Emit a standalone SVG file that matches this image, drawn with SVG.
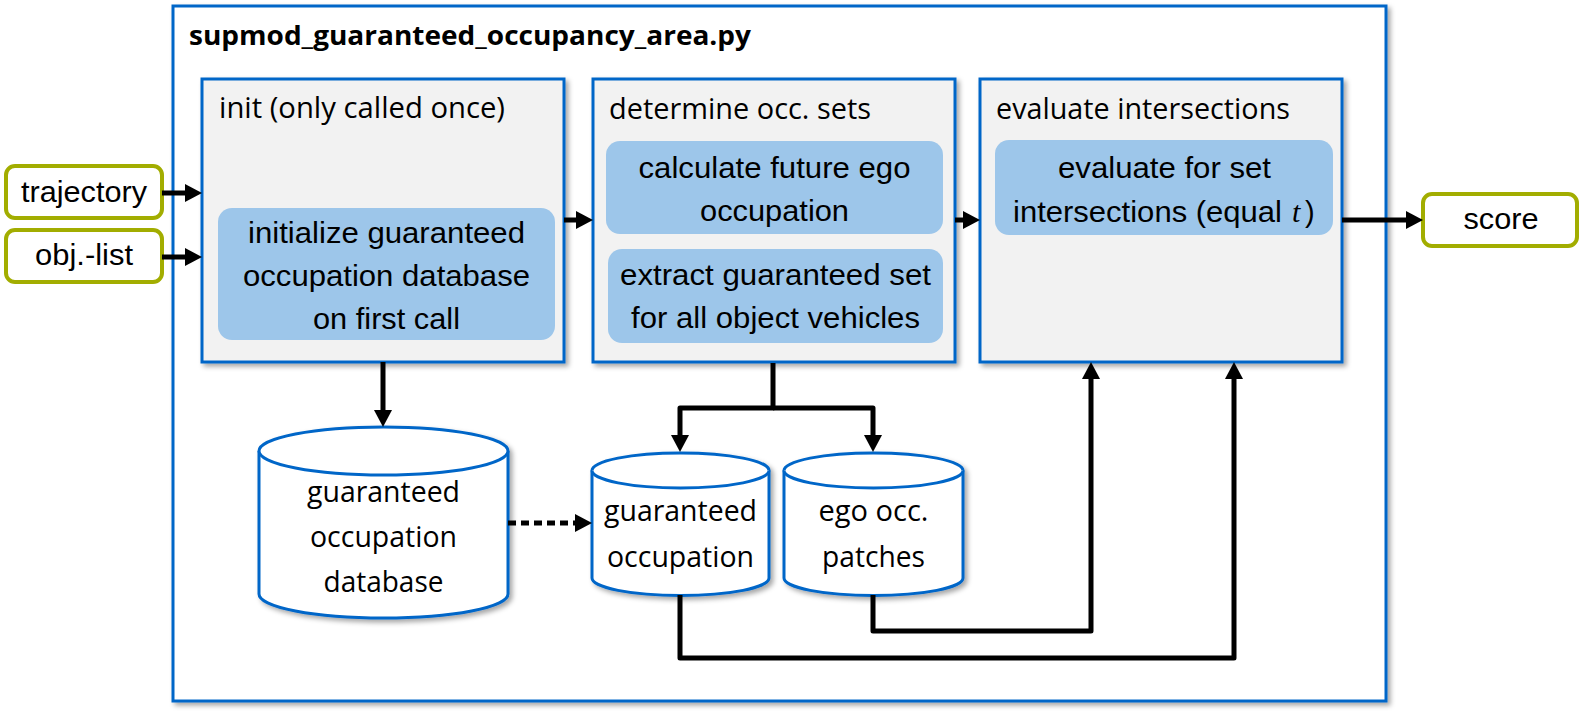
<svg xmlns="http://www.w3.org/2000/svg" width="1580" height="717" viewBox="0 0 1580 717">
<defs>
<filter id="sh" x="-5%" y="-5%" width="115%" height="115%">
<feDropShadow dx="3" dy="3" stdDeviation="2.5" flood-color="#000" flood-opacity="0.35"/>
</filter>
<marker id="ah" markerUnits="userSpaceOnUse" markerWidth="18" markerHeight="18" refX="0" refY="9" orient="auto" overflow="visible">
<path d="M0,0 L17,9 L0,18 Z" fill="#000"/>
</marker>
</defs>
<style>
.frame{fill:#fff;stroke:#0066C8;stroke-width:3}
.stage{fill:#F2F2F2;stroke:#0066C8;stroke-width:3}
.task{fill:#9DC6EA;stroke:none}
.io{fill:#fff;stroke:#A2AD00;stroke-width:4}
.cyl{fill:#fff;stroke:#0066C8;stroke-width:3}
.cal{font-family:"Open Sans","Noto Sans",sans-serif;font-size:29px;fill:#000}
.ari{font-family:"Liberation Sans",Arial,sans-serif;font-size:29px;fill:#000}
.ttl{font-family:"Open Sans","Noto Sans",sans-serif;font-size:27px;font-weight:bold;fill:#000}
.c{text-anchor:middle}
.con{fill:none;stroke:#000;stroke-width:5;stroke-linejoin:round}
</style>
<rect width="1580" height="717" fill="#fff"/>

<g id="n-module">
<rect class="frame" x="173" y="6" width="1213" height="695" filter="url(#sh)"/>
<text class="ttl" x="189" y="45" textLength="562" lengthAdjust="spacingAndGlyphs">supmod_guaranteed_occupancy_area.py</text>
</g>

<g id="n-trajectory">
<rect class="io" x="6" y="166" width="156" height="52" rx="9"/>
<text class="ari c" x="84" y="202" textLength="126" lengthAdjust="spacingAndGlyphs">trajectory</text>
</g>
<g id="n-objlist">
<rect class="io" x="6" y="230" width="156" height="52" rx="9"/>
<text class="ari c" x="84" y="265" textLength="98" lengthAdjust="spacingAndGlyphs">obj.-list</text>
</g>
<g id="n-score">
<rect class="io" x="1423" y="194" width="154" height="52" rx="9"/>
<text class="ari c" x="1501" y="229" textLength="75" lengthAdjust="spacingAndGlyphs">score</text>
</g>

<g id="n-init">
<rect class="stage" x="202" y="79" width="362" height="283" filter="url(#sh)"/>
<text class="cal" x="219" y="118" textLength="286" lengthAdjust="spacingAndGlyphs">init (only called once)</text>
<rect class="task" x="218" y="208" width="337" height="132" rx="14"/>
<text class="ari c" x="386.5" y="243" textLength="277" lengthAdjust="spacingAndGlyphs">initialize guaranteed</text>
<text class="ari c" x="386.5" y="286" textLength="287" lengthAdjust="spacingAndGlyphs">occupation database</text>
<text class="ari c" x="386.5" y="329" textLength="147" lengthAdjust="spacingAndGlyphs">on first call</text>
</g>

<g id="n-determine">
<rect class="stage" x="593" y="79" width="362" height="283" filter="url(#sh)"/>
<text class="cal" x="609" y="119" textLength="262" lengthAdjust="spacingAndGlyphs">determine occ. sets</text>
<rect class="task" x="606" y="141" width="337" height="93" rx="14"/>
<text class="ari c" x="774.5" y="178" textLength="272" lengthAdjust="spacingAndGlyphs">calculate future ego</text>
<text class="ari c" x="774.5" y="221" textLength="149" lengthAdjust="spacingAndGlyphs">occupation</text>
<rect class="task" x="608" y="249" width="335" height="94" rx="14"/>
<text class="ari c" x="775.5" y="285" textLength="311" lengthAdjust="spacingAndGlyphs">extract guaranteed set</text>
<text class="ari c" x="775.5" y="328" textLength="289" lengthAdjust="spacingAndGlyphs">for all object vehicles</text>
</g>

<g id="n-evaluate">
<rect class="stage" x="980" y="79" width="362" height="283" filter="url(#sh)"/>
<text class="cal" x="996" y="119" textLength="294" lengthAdjust="spacingAndGlyphs">evaluate intersections</text>
<rect class="task" x="995" y="140" width="338" height="95" rx="14"/>
<text class="ari c" x="1164.5" y="178" textLength="213" lengthAdjust="spacingAndGlyphs">evaluate for set</text>
<text class="ari" x="1013" y="222" textLength="269" lengthAdjust="spacingAndGlyphs">intersections (equal</text>
<text x="1292" y="222" font-family="'Liberation Serif',serif" font-style="italic" font-size="30" fill="#000">t</text>
<text class="ari" x="1305" y="222">)</text>
</g>

<g id="n-database">
<path class="cyl" d="M259,451 A124.5,24 0 0 1 508,451 V594 A124.5,24 0 0 1 259,594 Z" filter="url(#sh)"/>
<path class="cyl" fill="none" d="M259,451 A124.5,24 0 0 0 508,451"/>
<text class="cal c" x="383.5" y="502" textLength="153" lengthAdjust="spacingAndGlyphs">guaranteed</text>
<text class="cal c" x="383.5" y="547" textLength="147" lengthAdjust="spacingAndGlyphs">occupation</text>
<text class="cal c" x="383.5" y="592" textLength="120" lengthAdjust="spacingAndGlyphs">database</text>
</g>

<g id="n-guaranteed">
<path class="cyl" d="M592,470.5 A88.5,17.5 0 0 1 769,470.5 V578 A88.5,17.5 0 0 1 592,578 Z" filter="url(#sh)"/>
<path class="cyl" fill="none" d="M592,470.5 A88.5,17.5 0 0 0 769,470.5"/>
<text class="cal c" x="680.5" y="521" textLength="153" lengthAdjust="spacingAndGlyphs">guaranteed</text>
<text class="cal c" x="680.5" y="567" textLength="147" lengthAdjust="spacingAndGlyphs">occupation</text>
</g>

<g id="n-ego">
<path class="cyl" d="M784,470.5 A89.5,17.5 0 0 1 963,470.5 V578 A89.5,17.5 0 0 1 784,578 Z" filter="url(#sh)"/>
<path class="cyl" fill="none" d="M784,470.5 A89.5,17.5 0 0 0 963,470.5"/>
<text class="cal c" x="873.5" y="521" textLength="110" lengthAdjust="spacingAndGlyphs">ego occ.</text>
<text class="cal c" x="873.5" y="567" textLength="103" lengthAdjust="spacingAndGlyphs">patches</text>
</g>

<g id="connectors">
<path class="con" d="M162,193 H185" marker-end="url(#ah)"/>
<path class="con" d="M162,257 H185" marker-end="url(#ah)"/>
<path class="con" d="M564,220 H576" marker-end="url(#ah)"/>
<path class="con" d="M955,220 H963" marker-end="url(#ah)"/>
<path class="con" d="M1342,220 H1406" marker-end="url(#ah)"/>
<path class="con" d="M383,362 V410" marker-end="url(#ah)"/>
<path class="con" d="M773,363 V408 H680 V435" marker-end="url(#ah)"/>
<path class="con" d="M773,408 H873 V435" marker-end="url(#ah)"/>
<path class="con" d="M508,523 H575" stroke-dasharray="8 5" stroke-linejoin="miter" marker-end="url(#ah)"/>
<path class="con" d="M873,595 V631 H1091 V379" marker-end="url(#ah)"/>
<path class="con" d="M680,595 V658 H1234 V379" marker-end="url(#ah)"/>
</g>
</svg>
